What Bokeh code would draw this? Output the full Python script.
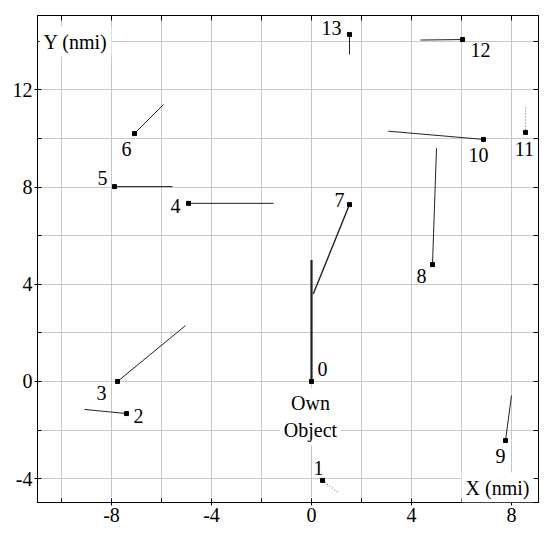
from bokeh.plotting import figure
from bokeh.models import LinearAxis, FixedTicker, Range1d, Label, LabelSet, ColumnDataSource
from bokeh.embed import file_html
from bokeh.resources import INLINE

# ---- data (nmi) ----
obj_ids = ["0", "1", "2", "3", "4", "5", "6", "7", "8", "9", "10", "11", "12", "13"]
obj_x = [0.0, 0.44, -7.40, -7.76, -4.92, -7.88, -7.08, 1.52, 4.84, 7.76, 6.88, 8.56, 6.04, 1.52]
obj_y = [0.0, -4.07, -1.32, 0.0, 7.33, 8.02, 10.20, 7.28, 4.81, -2.43, 9.96, 10.25, 14.07, 14.28]
trail_x = [0.0, 1.10, -9.08, -5.04, -1.52, -5.56, -5.92, 0.07, 5.00, 8.00, 3.07, 8.56, 4.36, 1.52]
trail_y = [5.0, -4.60, -1.15, 2.30, 7.33, 8.02, 11.40, 3.60, 9.60, -0.58, 10.30, 11.28, 14.05, 13.46]
dotted_ids = ["1", "11"]

x_major = [-8, -4, 0, 4, 8]
x_minor = [-10, -6, -2, 2, 6]
y_major = [-4, 0, 4, 8, 12]
y_minor = [-2, 2, 6, 10, 14]

# ---- styling (label offsets in px, line widths) ----
label_dx = [11, -4, 12, -16, -13, -12, -8, -10, -11, -5, -5, -1, 18, -18]
label_dy = [12, 12, -2, -12, -3, 9, -15, 5, -11, -15, -16, -17, -10, 6]
widths = {"0": 2.2, "7": 1.4}

FONT = "Liberation Serif"
FS = "20px"

p = figure(width=550, height=537, output_backend="svg", toolbar_location=None,
           x_range=Range1d(-10.96, 9.08), y_range=Range1d(-4.98, 15.06),
           min_border_left=37, min_border_right=12, min_border_top=15, min_border_bottom=35)
p.outline_line_color = "black"
p.background_fill_color = "white"

grid_x = sorted(x_major + x_minor)
grid_y = sorted(y_major + y_minor)
p.xgrid.ticker = FixedTicker(ticks=grid_x)
p.ygrid.ticker = FixedTicker(ticks=grid_y)
for g in (p.xgrid, p.ygrid):
    g.grid_line_color = "#c8c8c8"
    g.grid_line_width = 1

for ax, maj, mnr in ((p.xaxis[0], x_major, x_minor), (p.yaxis[0], y_major, y_minor)):
    ax.ticker = FixedTicker(ticks=maj, minor_ticks=mnr)
    ax.major_label_overrides = {t: str(t) for t in maj}
    ax.major_label_text_font = FONT
    ax.major_label_text_font_size = FS
    ax.major_label_text_color = "black"
    ax.axis_line_color = "black"
    ax.major_tick_line_color = "black"
    ax.minor_tick_line_color = "black"
    ax.major_tick_out = 3
    ax.major_tick_in = 4
    ax.minor_tick_out = 0
    ax.minor_tick_in = 4
    ax.major_label_standoff = 2

for loc, ticks in (("right", grid_y), ("above", grid_x)):
    ax = LinearAxis(ticker=FixedTicker(ticks=ticks),
                    major_label_overrides={t: "" for t in ticks})
    ax.major_label_standoff = 0
    ax.major_tick_out = 0
    ax.major_tick_in = 5
    ax.minor_tick_line_color = None
    ax.axis_line_color = "black"
    ax.major_tick_line_color = "black"
    p.add_layout(ax, loc)

# trails
solid = [i for i, k in enumerate(obj_ids) if k not in dotted_ids]
dots = [i for i, k in enumerate(obj_ids) if k in dotted_ids]
src_solid = ColumnDataSource(dict(
    x0=[obj_x[i] for i in solid], y0=[obj_y[i] for i in solid],
    x1=[trail_x[i] for i in solid], y1=[trail_y[i] for i in solid],
    w=[widths.get(obj_ids[i], 1.0) for i in solid]))
p.segment("x0", "y0", "x1", "y1", source=src_solid, line_color="#222222", line_width="w")
src_dot = ColumnDataSource(dict(
    x0=[obj_x[i] for i in dots], y0=[obj_y[i] for i in dots],
    x1=[trail_x[i] for i in dots], y1=[trail_y[i] for i in dots]))
p.segment("x0", "y0", "x1", "y1", source=src_dot, line_color="#777777", line_width=1.2,
          line_dash="1 2")

# markers
src_obj = ColumnDataSource(dict(x=obj_x, y=obj_y, t=obj_ids, dx=label_dx, dy=label_dy))
p.scatter("x", "y", source=src_obj, marker="square", size=4, fill_color="black", line_color="black")

labels = LabelSet(x="x", y="y", text="t", source=src_obj, x_offset="dx", y_offset="dy",
                  text_font=FONT, text_font_size=FS, text_color="black",
                  text_align="center", text_baseline="middle",
                  background_fill_color="white")
p.add_layout(labels)

def add_label(x, y, txt, dx, dy):
    lab = Label(x=x, y=y, x_offset=dx, y_offset=dy, text=txt, text_font=FONT, text_font_size=FS,
                text_color="black", text_align="center", text_baseline="middle",
                background_fill_color="white", padding=4)
    p.add_layout(lab)

add_label(0, 0, "Own", -1, -22)
add_label(0, 0, "Object", -1, -49)
add_label(-10.96, 15.06, "Y (nmi)", 38, -26)
add_label(9.08, -4.98, "X (nmi)", -41, 15)

open("out.html", "w").write(file_html(p, INLINE))
